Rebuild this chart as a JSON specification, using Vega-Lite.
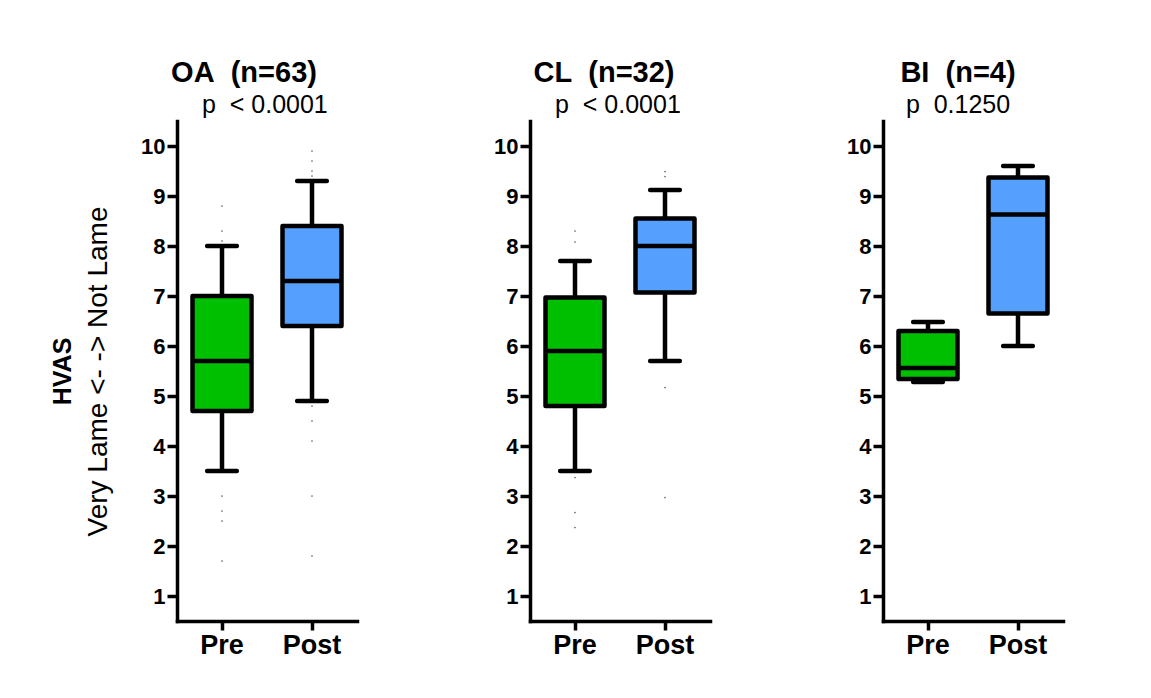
{
  "$schema": "https://vega.github.io/schema/vega-lite/v6.json",
  "padding": {"left": 50, "top": 59, "right": 5, "bottom": 5},
  "background": "white",
  "datasets": {
    "boxes": [
      {"panel": "OA", "group": "Pre", "lower": 3.5, "q1": 4.7, "median": 5.7, "q3": 7.0, "upper": 8.0},
      {"panel": "OA", "group": "Post", "lower": 4.9, "q1": 6.4, "median": 7.3, "q3": 8.4, "upper": 9.3},
      {"panel": "CL", "group": "Pre", "lower": 3.5, "q1": 4.8, "median": 5.9, "q3": 6.97, "upper": 7.7},
      {"panel": "CL", "group": "Post", "lower": 5.7, "q1": 7.07, "median": 8.0, "q3": 8.55, "upper": 9.12},
      {"panel": "BI", "group": "Pre", "lower": 5.28, "q1": 5.34, "median": 5.56, "q3": 6.3, "upper": 6.48},
      {"panel": "BI", "group": "Post", "lower": 6.0, "q1": 6.65, "median": 8.63, "q3": 9.37, "upper": 9.6}
    ],
    "outliers": [
      {"panel": "OA", "group": "Pre", "value": 8.8},
      {"panel": "OA", "group": "Pre", "value": 8.3},
      {"panel": "OA", "group": "Pre", "value": 8.1},
      {"panel": "OA", "group": "Pre", "value": 3.0},
      {"panel": "OA", "group": "Pre", "value": 2.7},
      {"panel": "OA", "group": "Pre", "value": 2.5},
      {"panel": "OA", "group": "Pre", "value": 1.7},
      {"panel": "OA", "group": "Post", "value": 9.9},
      {"panel": "OA", "group": "Post", "value": 9.7},
      {"panel": "OA", "group": "Post", "value": 9.5},
      {"panel": "OA", "group": "Post", "value": 9.4},
      {"panel": "OA", "group": "Post", "value": 4.8},
      {"panel": "OA", "group": "Post", "value": 4.5},
      {"panel": "OA", "group": "Post", "value": 4.1},
      {"panel": "OA", "group": "Post", "value": 3.0},
      {"panel": "OA", "group": "Post", "value": 1.8},
      {"panel": "CL", "group": "Pre", "value": 8.3},
      {"panel": "CL", "group": "Pre", "value": 8.08},
      {"panel": "CL", "group": "Pre", "value": 3.37},
      {"panel": "CL", "group": "Pre", "value": 2.67},
      {"panel": "CL", "group": "Pre", "value": 2.37},
      {"panel": "CL", "group": "Post", "value": 9.49},
      {"panel": "CL", "group": "Post", "value": 9.39},
      {"panel": "CL", "group": "Post", "value": 5.17},
      {"panel": "CL", "group": "Post", "value": 2.97}
    ]
  },
  "hconcat": [
    {
      "width": 180, "height": 500,
      "title": {"text": "OA\u00a0 (n=63)", "subtitle": "\u200b\u00a0\u00a0\u00a0\u00a0\u00a0\u00a0p\u00a0\u00a0< 0.0001", "dx": -23},
      "resolve": {"axis": {"y": "independent"}},
      "layer": [
        {
          "data": {"name": "boxes"},
          "transform": [{"filter": "datum.panel === 'OA'"}],
          "encoding": {
            "x": {"field": "group", "type": "nominal", "sort": ["Pre", "Post"], "title": null, "scale": {"paddingInner": 0, "paddingOuter": 0}},
            "y": {"type": "quantitative", "scale": {"domain": [0.5, 10.5], "nice": false, "zero": false}, "title": "Very Lame <- -> Not Lame", "axis": {"values": [1,2,3,4,5,6,7,8,9,10], "titlePadding": 28}}
          },
          "layer": [
            {"mark": {"type": "rule", "strokeWidth": 4.5, "color": "black"}, "encoding": {"y": {"field": "lower"}, "y2": {"field": "q1"}}},
            {"mark": {"type": "rule", "strokeWidth": 4.5, "color": "black"}, "encoding": {"y": {"field": "q3"}, "y2": {"field": "upper"}}},
            {"mark": {"type": "bar", "width": 59, "stroke": "black", "strokeWidth": 4.5, "strokeJoin": "round"}, "encoding": {"y": {"field": "q1"}, "y2": {"field": "q3"}, "color": {"field": "group", "type": "nominal", "scale": {"domain": ["Pre", "Post"], "range": ["#00BF00", "#55A0FF"]}, "legend": null}, "opacity": {"value": 1}}},
            {"mark": {"type": "tick", "size": 59, "thickness": 4.5, "color": "black", "opacity": 1}, "encoding": {"y": {"field": "median"}}},
            {"mark": {"type": "tick", "size": 34, "thickness": 4.5, "color": "black", "opacity": 1, "cornerRadius": 2}, "encoding": {"y": {"field": "lower"}}},
            {"mark": {"type": "tick", "size": 34, "thickness": 4.5, "color": "black", "opacity": 1, "cornerRadius": 2}, "encoding": {"y": {"field": "upper"}}}
          ]
        },
        {
          "data": {"name": "outliers"},
          "transform": [{"filter": "datum.panel === 'OA'"}],
          "mark": {"type": "point", "filled": true, "size": 3, "color": "#555555", "opacity": 0.9},
          "encoding": {
            "x": {"field": "group", "type": "nominal", "sort": ["Pre", "Post"], "title": null},
            "y": {"field": "value", "type": "quantitative", "scale": {"domain": [0.5, 10.5], "nice": false, "zero": false}, "axis": null}
          }
        },
        {
          "data": {"name": "boxes"},
          "transform": [{"filter": "datum.panel === 'OA'"}],
          "mark": {"type": "point", "opacity": 0},
          "encoding": {
            "x": {"field": "group", "type": "nominal", "sort": ["Pre", "Post"], "title": null},
            "y": {"field": "median", "type": "quantitative", "scale": {"domain": [0.5, 10.5], "nice": false, "zero": false}, "title": "HVAS", "axis": {"orient": "left", "domain": false, "ticks": false, "labels": false, "titleFontWeight": "bold", "titleFontSize": 25, "titlePadding": 102}}
          }
        }
      ]
    },
    {
      "width": 180, "height": 500,
      "title": {"text": "CL\u00a0 (n=32)", "subtitle": "\u200b\u00a0\u00a0\u00a0\u00a0p\u00a0\u00a0< 0.0001", "dx": -16},
      "layer": [
        {
          "data": {"name": "boxes"},
          "transform": [{"filter": "datum.panel === 'CL'"}],
          "encoding": {
            "x": {"field": "group", "type": "nominal", "sort": ["Pre", "Post"], "title": null, "scale": {"paddingInner": 0, "paddingOuter": 0}},
            "y": {"type": "quantitative", "scale": {"domain": [0.5, 10.5], "nice": false, "zero": false}, "title": null, "axis": {"values": [1,2,3,4,5,6,7,8,9,10]}}
          },
          "layer": [
            {"mark": {"type": "rule", "strokeWidth": 4.5, "color": "black"}, "encoding": {"y": {"field": "lower"}, "y2": {"field": "q1"}}},
            {"mark": {"type": "rule", "strokeWidth": 4.5, "color": "black"}, "encoding": {"y": {"field": "q3"}, "y2": {"field": "upper"}}},
            {"mark": {"type": "bar", "width": 59, "stroke": "black", "strokeWidth": 4.5, "strokeJoin": "round"}, "encoding": {"y": {"field": "q1"}, "y2": {"field": "q3"}, "color": {"field": "group", "type": "nominal", "scale": {"domain": ["Pre", "Post"], "range": ["#00BF00", "#55A0FF"]}, "legend": null}, "opacity": {"value": 1}}},
            {"mark": {"type": "tick", "size": 59, "thickness": 4.5, "color": "black", "opacity": 1}, "encoding": {"y": {"field": "median"}}},
            {"mark": {"type": "tick", "size": 34, "thickness": 4.5, "color": "black", "opacity": 1, "cornerRadius": 2}, "encoding": {"y": {"field": "lower"}}},
            {"mark": {"type": "tick", "size": 34, "thickness": 4.5, "color": "black", "opacity": 1, "cornerRadius": 2}, "encoding": {"y": {"field": "upper"}}}
          ]
        },
        {
          "data": {"name": "outliers"},
          "transform": [{"filter": "datum.panel === 'CL'"}],
          "mark": {"type": "point", "filled": true, "size": 3, "color": "#555555", "opacity": 0.9},
          "encoding": {
            "x": {"field": "group", "type": "nominal", "sort": ["Pre", "Post"], "title": null},
            "y": {"field": "value", "type": "quantitative", "title": null}
          }
        }
      ]
    },
    {
      "width": 180, "height": 500,
      "title": {"text": "BI\u00a0 (n=4)", "subtitle": "p\u00a0\u00a00.1250", "dx": -15},
      "data": {"name": "boxes"},
      "transform": [{"filter": "datum.panel === 'BI'"}],
      "encoding": {
        "x": {"field": "group", "type": "nominal", "sort": ["Pre", "Post"], "title": null, "scale": {"paddingInner": 0, "paddingOuter": 0}},
        "y": {"type": "quantitative", "scale": {"domain": [0.5, 10.5], "nice": false, "zero": false}, "title": null, "axis": {"values": [1,2,3,4,5,6,7,8,9,10]}}
      },
      "layer": [
        {"mark": {"type": "rule", "strokeWidth": 4.5, "color": "black"}, "encoding": {"y": {"field": "lower"}, "y2": {"field": "q1"}}},
        {"mark": {"type": "rule", "strokeWidth": 4.5, "color": "black"}, "encoding": {"y": {"field": "q3"}, "y2": {"field": "upper"}}},
        {"mark": {"type": "bar", "width": 59, "stroke": "black", "strokeWidth": 4.5, "strokeJoin": "round"}, "encoding": {"y": {"field": "q1"}, "y2": {"field": "q3"}, "color": {"field": "group", "type": "nominal", "scale": {"domain": ["Pre", "Post"], "range": ["#00BF00", "#55A0FF"]}, "legend": null}, "opacity": {"value": 1}}},
        {"mark": {"type": "tick", "size": 59, "thickness": 4.5, "color": "black", "opacity": 1}, "encoding": {"y": {"field": "median"}}},
        {"mark": {"type": "tick", "size": 34, "thickness": 4.5, "color": "black", "opacity": 1, "cornerRadius": 2}, "encoding": {"y": {"field": "lower"}}},
        {"mark": {"type": "tick", "size": 34, "thickness": 4.5, "color": "black", "opacity": 1, "cornerRadius": 2}, "encoding": {"y": {"field": "upper"}}}
      ]
    }
  ],
  "spacing": 173,
  "bounds": "flush",
  "config": {
    "font": "Liberation Sans",
    "view": {"stroke": null},
    "title": {"anchor": "middle", "frame": "group", "fontSize": 29, "fontWeight": "bold", "color": "black", "subtitleFontSize": 25, "subtitleColor": "black", "subtitleFont": "Liberation Sans", "subtitlePadding": 5, "offset": 3},
    "axis": {
      "grid": false,
      "domainColor": "black", "domainWidth": 3.5, "domainCap": "square",
      "tickColor": "black", "tickWidth": 3.5, "tickSize": 10,
      "labelColor": "black", "labelFontWeight": "bold", "labelFont": "Liberation Sans",
      "titleColor": "black", "titleFont": "Liberation Sans", "titleFontWeight": "normal", "titleFontSize": 28
    },
    "axisY": {"labelFontSize": 22, "labelPadding": 2},
    "axisX": {"labelFontSize": 27, "labelAngle": 0, "labelPadding": 2, "tickSize": 9}
  }
}
